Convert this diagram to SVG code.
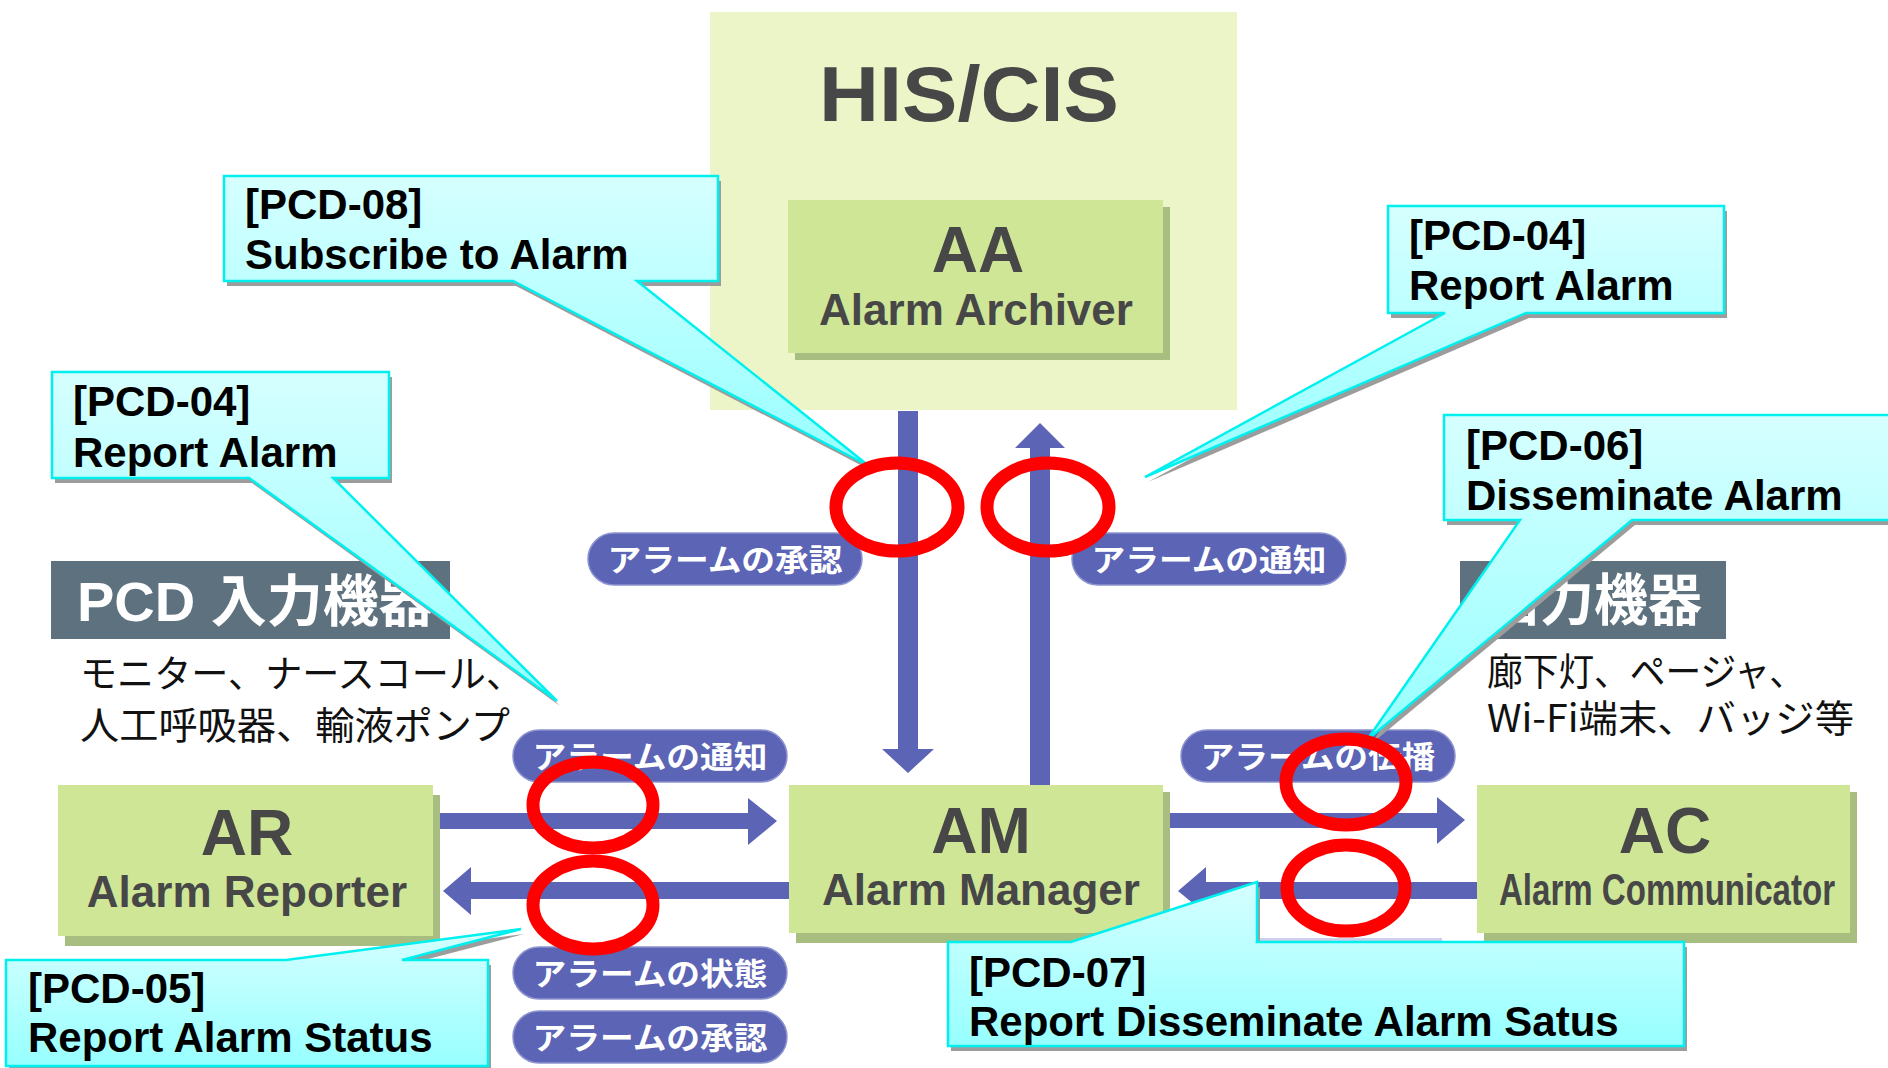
<svg xmlns="http://www.w3.org/2000/svg" width="1888" height="1068" viewBox="0 0 1888 1068">
<style>
.lat{font-family:"Liberation Sans",Arial,sans-serif;font-weight:bold}
.jp{font-family:"Noto Sans CJK JP","Liberation Sans",sans-serif}
.box{fill:#cfe697}
.shadow{fill:#a8be80}
.big{font-size:64px;fill:#474747;text-anchor:middle}
.sub{font-size:44px;fill:#474747;text-anchor:middle}
.pill{fill:#5b64b5;stroke:#8d93cf;stroke-width:1.5}
.pilltxt{font-size:31px;font-weight:bold;fill:#ffffff;text-anchor:middle}
.arrow{fill:#5b64b5}
.hdr{fill:#5e717e}
.hdrtxt{font-size:56px;font-weight:bold;fill:#ffffff}
.body{font-size:38px;fill:#111111}
.co{fill:url(#cyan);stroke:#00f0f0;stroke-width:2.5}
.coshadow{fill:#9c9c9c}
.cotxt{font-size:42px;fill:#000000}
.ring{fill:none;stroke:#ff0000;stroke-width:13}
</style>
<defs>
<linearGradient id="cyan" x1="0" y1="0" x2="0" y2="1">
<stop offset="0" stop-color="#d6ffff"/>
<stop offset="1" stop-color="#97ffff"/>
</linearGradient>
</defs>
<rect width="1888" height="1068" fill="#ffffff"/>

<g id="his-cis">
<rect x="710" y="12" width="527" height="398" fill="#ecf5c8"/>
<text class="lat" x="969" y="121" font-size="78" fill="#474747" text-anchor="middle" textLength="300" lengthAdjust="spacingAndGlyphs">HIS/CIS</text>
</g>

<g id="AA">
<rect class="shadow" x="795" y="207" width="375" height="153"/>
<rect class="box" x="788" y="200" width="375" height="153"/>
<text class="lat big" x="978" y="272">AA</text>
<text class="lat sub" x="976" y="325">Alarm Archiver</text>
</g>

<g id="pcd-input-header">
<rect class="hdr" x="51" y="561" width="399" height="78"/>
<text class="lat hdrtxt" x="77" y="621">PCD <tspan class="jp" font-weight="bold">入力機器</tspan></text>
</g>
<g id="pcd-input-devices">
<text class="jp body" x="80" y="687" textLength="443" lengthAdjust="spacingAndGlyphs">モニター、ナースコール、</text>
<text class="jp body" x="80" y="739" textLength="430" lengthAdjust="spacingAndGlyphs">人工呼吸器、輸液ポンプ</text>
</g>

<g id="output-header">
<rect class="hdr" x="1460" y="561" width="266" height="78"/>
<text class="jp hdrtxt" x="1486" y="620" font-size="54" textLength="216" lengthAdjust="spacingAndGlyphs">出力機器</text>
</g>
<g id="output-devices">
<text class="jp body" x="1487" y="685" font-size="37" textLength="318" lengthAdjust="spacingAndGlyphs">廊下灯、ページャ、</text>
<text class="jp body" x="1487" y="732" font-size="37" textLength="367" lengthAdjust="spacingAndGlyphs">Wi-Fi端末、バッジ等</text>
</g>

<g id="connectors">
<polygon class="arrow" points="898,411 918,411 918,749 934,749 908,773 882,749 898,749"/>
<polygon class="arrow" points="1030,785 1050,785 1050,448 1065,448 1040,423 1015,448 1030,448"/>
<polygon class="arrow" points="437,813 748,813 748,798 777,821 748,845 748,829 437,829"/>
<polygon class="arrow" points="789,882 471,882 471,867 443,891 471,915 471,899 789,899"/>
<polygon class="arrow" points="1170,813 1437,813 1437,797 1465,820 1437,844 1437,828 1170,828"/>
<polygon class="arrow" points="1477,882 1206,882 1206,867 1178,891 1206,914 1206,899 1477,899"/>
</g>

<g id="labels">
<g id="lbl-ack-top"><rect class="pill" x="588" y="533" width="274" height="52" rx="26"/><text class="jp pilltxt" x="725" y="571" textLength="235" lengthAdjust="spacingAndGlyphs">アラームの承認</text></g>
<g id="lbl-notify-top"><rect class="pill" x="1072" y="533" width="274" height="52" rx="26"/><text class="jp pilltxt" x="1209" y="571" textLength="235" lengthAdjust="spacingAndGlyphs">アラームの通知</text></g>
<g id="lbl-notify-left"><rect class="pill" x="513" y="730" width="274" height="52" rx="26"/><text class="jp pilltxt" x="650" y="768" textLength="235" lengthAdjust="spacingAndGlyphs">アラームの通知</text></g>
<g id="lbl-dissem"><rect class="pill" x="1181" y="730" width="274" height="52" rx="26"/><text class="jp pilltxt" x="1318" y="768" textLength="235" lengthAdjust="spacingAndGlyphs">アラームの伝播</text></g>
<g id="lbl-status"><rect class="pill" x="513" y="947" width="274" height="52" rx="26"/><text class="jp pilltxt" x="650" y="985" textLength="235" lengthAdjust="spacingAndGlyphs">アラームの状態</text></g>
<g id="lbl-ack-bottom"><rect class="pill" x="513" y="1011" width="274" height="52" rx="26"/><text class="jp pilltxt" x="650" y="1049" textLength="235" lengthAdjust="spacingAndGlyphs">アラームの承認</text></g>
<rect x="1257" y="938" width="185" height="3" fill="#cdd0ea"/>
<rect x="1257" y="941" width="185" height="2" fill="#6a71bd"/>
</g>

<g id="AR">
<rect class="shadow" x="65" y="795" width="375" height="151"/>
<rect class="box" x="58" y="785" width="375" height="151"/>
<text class="lat big" x="247" y="855">AR</text>
<text class="lat sub" x="247" y="907">Alarm Reporter</text>
</g>

<g id="AM">
<rect class="shadow" x="796" y="792" width="374" height="151"/>
<rect class="box" x="789" y="785" width="374" height="148"/>
<text class="lat big" x="981" y="853">AM</text>
<text class="lat sub" x="981" y="905">Alarm Manager</text>
</g>

<g id="AC">
<rect class="shadow" x="1484" y="792" width="373" height="151"/>
<rect class="box" x="1477" y="785" width="373" height="148"/>
<text class="lat big" x="1665" y="853">AC</text>
<text class="lat sub" x="1667" y="905" textLength="336" lengthAdjust="spacingAndGlyphs">Alarm Communicator</text>
</g>

<g id="callout-pcd08">
<path class="coshadow" transform="translate(3,5)" d="M224,176 H718 V281 H637 L869,466 L513,281 H224 Z"/>
<path class="co" d="M224,176 H718 V281 H637 L869,466 L513,281 H224 Z"/>
<text class="lat cotxt" x="245" y="219">[PCD-08]</text>
<text class="lat cotxt" x="245" y="269">Subscribe to Alarm</text>
</g>

<g id="callout-pcd04-left">
<path class="coshadow" transform="translate(3,5)" d="M52,372 H389 V478 H333 L557,701 L249,478 H52 Z"/>
<path class="co" d="M52,372 H389 V478 H333 L557,701 L249,478 H52 Z"/>
<text class="lat cotxt" x="73" y="416">[PCD-04]</text>
<text class="lat cotxt" x="73" y="467">Report Alarm</text>
</g>

<g id="callout-pcd04-right">
<path class="coshadow" transform="translate(3,5)" d="M1388,206 H1724 V313 H1526 L1145,477 L1445,313 H1388 Z"/>
<path class="co" d="M1388,206 H1724 V313 H1526 L1145,477 L1445,313 H1388 Z"/>
<text class="lat cotxt" x="1409" y="250">[PCD-04]</text>
<text class="lat cotxt" x="1409" y="300">Report Alarm</text>
</g>

<g id="callout-pcd06">
<path class="coshadow" transform="translate(3,5)" d="M1444,415 H1895 V520 H1632 L1367,740 L1520,520 H1444 Z"/>
<path class="co" d="M1444,415 H1895 V520 H1632 L1367,740 L1520,520 H1444 Z"/>
<text class="lat cotxt" x="1466" y="460">[PCD-06]</text>
<text class="lat cotxt" x="1466" y="510">Disseminate Alarm</text>
</g>

<g id="callout-pcd05">
<path class="coshadow" transform="translate(3,5)" d="M6,960 H286 L521,929 L402,960 H488 V1066 H6 Z"/>
<path class="co" d="M6,960 H286 L521,929 L402,960 H488 V1066 H6 Z"/>
<text class="lat cotxt" x="28" y="1003">[PCD-05]</text>
<text class="lat cotxt" x="28" y="1052">Report Alarm Status</text>
</g>

<g id="callout-pcd07">
<path class="coshadow" transform="translate(3,5)" d="M948,942 H1071 L1257,882 V942 H1684 V1046 H948 Z"/>
<path class="co" d="M948,942 H1071 L1257,882 V942 H1684 V1046 H948 Z"/>
<text class="lat cotxt" x="969" y="987">[PCD-07]</text>
<text class="lat cotxt" x="969" y="1036">Report Disseminate Alarm Satus</text>
</g>

<g id="highlights">
<ellipse class="ring" cx="897" cy="507" rx="61" ry="44"/>
<ellipse class="ring" cx="1048" cy="507" rx="61" ry="44"/>
<ellipse class="ring" cx="593" cy="805" rx="60" ry="43"/>
<ellipse class="ring" cx="593" cy="905" rx="60" ry="44"/>
<ellipse class="ring" cx="1346" cy="782" rx="60" ry="43"/>
<ellipse class="ring" cx="1346" cy="888" rx="59" ry="43"/>
</g>
</svg>
